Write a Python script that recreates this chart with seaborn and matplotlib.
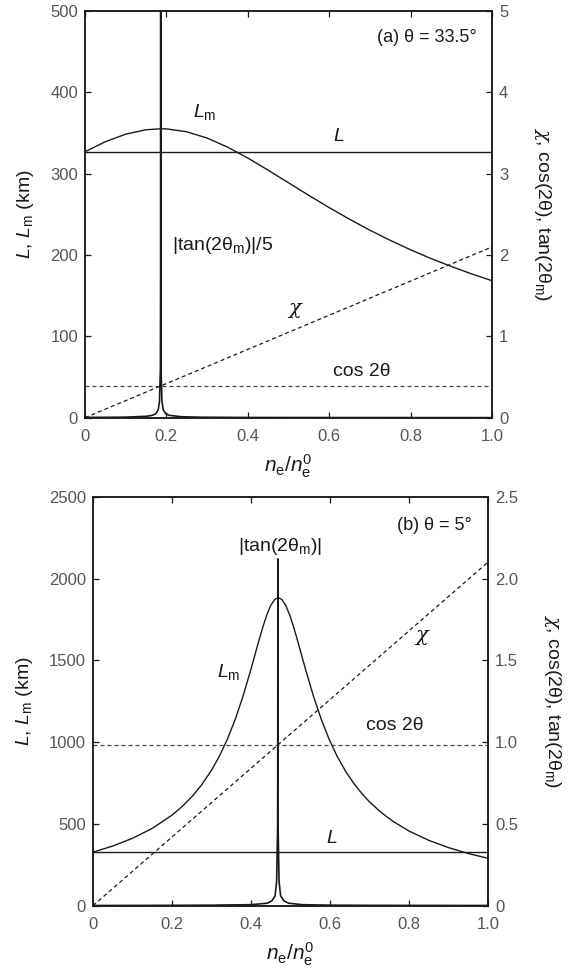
import numpy as np
import pandas as pd
import matplotlib
matplotlib.use("Agg")
import matplotlib.pyplot as plt
import seaborn as sns
from matplotlib.ticker import FixedLocator, FixedFormatter

sns.set_theme(style="white")
plt.rcParams['font.family'] = ['Liberation Sans', 'DejaVu Sans']
plt.rcParams['mathtext.fontset'] = 'custom'
plt.rcParams['mathtext.rm'] = 'Liberation Sans'
plt.rcParams['mathtext.it'] = 'Liberation Sans:italic'
plt.rcParams['mathtext.bf'] = 'Liberation Sans:bold'
plt.rcParams['mathtext.sf'] = 'DejaVu Serif:italic'

# ---------------- data: panel (a) theta = 33.5 deg ----------------
a_x_lm = [0.0, 0.05, 0.1, 0.15, 0.186, 0.2, 0.25, 0.3, 0.35, 0.4, 0.45, 0.5,
          0.55, 0.6, 0.65, 0.7, 0.75, 0.8, 0.85, 0.9, 0.95, 1.0]
a_lm = [327, 339.3, 348.6, 354.0, 355.2, 355.1, 351.5, 343.8, 332.7, 319.2, 304.3,
        288.8, 273.3, 258.3, 244.0, 230.5, 218.0, 206.4, 195.7, 185.9, 176.8, 168.4]
a_L = 327
a_cos = 0.39
a_chi_x = [0.0, 1.0]
a_chi = [0.0, 2.1]
a_tan_x = [0.0, 0.05, 0.1, 0.15, 0.166, 0.174, 0.18, 0.183, 0.1852, 0.1858, 0.186,
           0.1862, 0.1868, 0.189, 0.192, 0.198, 0.206, 0.236, 0.286, 0.4, 0.6, 0.8, 1.0]
a_tan = [0.004, 0.005, 0.007, 0.017, 0.03, 0.05, 0.1, 0.2, 0.6, 2.0, 6.0,
         2.0, 0.6, 0.2, 0.1, 0.05, 0.03, 0.012, 0.006, 0.003, 0.002, 0.0015, 0.001]

# ---------------- data: panel (b) theta = 5 deg ----------------
b_x_lm = [0.0, 0.05, 0.1, 0.15, 0.2, 0.225, 0.25, 0.275, 0.3, 0.32, 0.34, 0.36, 0.38,
          0.4, 0.41, 0.42, 0.43, 0.44, 0.45, 0.46, 0.469, 0.478, 0.488, 0.498, 0.508,
          0.518, 0.528, 0.538, 0.558, 0.578, 0.598, 0.618, 0.64, 0.66, 0.68, 0.7,
          0.73, 0.76, 0.8, 0.85, 0.9, 0.95, 1.0]
b_lm = [327, 364.6, 411.8, 472.6, 553.4, 604.5, 665.3, 738.5, 827.8, 914.0, 1016.5,
        1138.5, 1282.1, 1446.3, 1533.3, 1620.5, 1703.6, 1777.3, 1835.5, 1872.2, 1883.1,
        1872.0, 1835.1, 1776.7, 1702.8, 1619.6, 1532.5, 1445.4, 1281.4, 1137.8, 1016.0,
        913.6, 819.6, 748.0, 687.0, 634.5, 568.6, 514.6, 456.3, 399.4, 354.8, 319.0, 289.7]
b_L = 327
b_cos = 0.985
b_chi_x = [0.0, 1.0]
b_chi = [0.0, 2.1]
b_tan_x = [0.0, 0.1, 0.2, 0.3, 0.4, 0.441, 0.453, 0.461, 0.465, 0.4675, 0.4679, 0.468,
           0.4681, 0.4685, 0.471, 0.475, 0.483, 0.495, 0.53, 0.6, 0.7, 0.85, 1.0]
b_tan = [0.001, 0.0015, 0.002, 0.003, 0.006, 0.015, 0.03, 0.06, 0.15, 0.5, 1.5, 2.12,
         1.5, 0.5, 0.15, 0.06, 0.03, 0.015, 0.006, 0.003, 0.002, 0.0015, 0.001]

x_ticks = [0, 0.2, 0.4, 0.6, 0.8, 1.0]
x_ticklabels = ["0", "0.2", "0.4", "0.6", "0.8", "1.0"]
a_left_ticks = [0, 100, 200, 300, 400, 500]
a_right_ticks = [0, 1, 2, 3, 4, 5]
b_left_ticks = [0, 500, 1000, 1500, 2000, 2500]
b_right_ticks = [0, 0.5, 1.0, 1.5, 2.0, 2.5]
b_right_labels = ["0", "0.5", "1.0", "1.5", "2.0", "2.5"]

CHI = r'$\mathsf{\chi}$'
INK = '#1a1a1a'
TICKC = '#555555'
DASH = (3.2, 2.4)
LW = 1.0

fig = plt.figure(figsize=(5.74, 9.73), dpi=100)
ax_a = fig.add_axes([0.1481, 0.5707, 0.7091, 0.4180])
ax_b = fig.add_axes([0.1620, 0.0692, 0.6882, 0.4203])


def style(ax, ax2, left_ticks, right_ticks, right_labels, ylim_l, ylim_r):
    ax.set_xlim(0, 1)
    ax.set_ylim(*ylim_l)
    ax2.set_ylim(*ylim_r)
    ax.xaxis.set_major_locator(FixedLocator(x_ticks))
    ax.xaxis.set_major_formatter(FixedFormatter(x_ticklabels))
    ax.yaxis.set_major_locator(FixedLocator(left_ticks))
    ax.yaxis.set_major_formatter(FixedFormatter([str(t) for t in left_ticks]))
    ax2.yaxis.set_major_locator(FixedLocator(right_ticks))
    ax2.yaxis.set_major_formatter(FixedFormatter(right_labels))
    for a in (ax, ax2):
        for s in a.spines.values():
            s.set_visible(True)
            s.set_color(INK)
            s.set_linewidth(1.1)
        a.grid(False)
    ax.tick_params(axis='x', which='both', direction='in', top=True, bottom=True,
                   length=4, width=0.9, color=INK, labelcolor=TICKC, labelsize=12, pad=8)
    ax.tick_params(axis='y', direction='in', left=True, right=False,
                   length=4, width=0.9, color=INK, labelcolor=TICKC, labelsize=12, pad=5)
    ax2.tick_params(axis='y', direction='in', right=True, left=False,
                    length=4, width=0.9, color=INK, labelcolor=TICKC, labelsize=12, pad=5)
    ax.set_xlabel(r'$n_{\rm e}/n_{\rm e}^{\rm 0}$', fontsize=15, color=INK, labelpad=6)
    ax.set_ylabel(r'$L$, $L_{\rm m}$ (km)', fontsize=14, color=INK, labelpad=10)
    ax2.set_ylabel(CHI + r', cos(2θ), tan(2θ$_{\rm m}$)', fontsize=14, color=INK,
                   rotation=270, labelpad=32)


def draw(ax, ax2, x_lm, lm, L, cosv, chi_x, chi, tan_x, tan):
    ax2.set_facecolor('none')
    sns.lineplot(x=x_lm, y=lm, ax=ax, color=INK, lw=LW, estimator=None, sort=False)
    sns.lineplot(x=[0, 1], y=[L, L], ax=ax, color=INK, lw=LW, estimator=None)
    sns.lineplot(x=chi_x, y=chi, ax=ax2, color=INK, lw=0.9, estimator=None)
    sns.lineplot(x=[0, 1], y=[cosv, cosv], ax=ax2, color='#444444', lw=0.9, estimator=None)
    for ln in ax2.get_lines():
        ln.set_dashes(DASH)
    sns.lineplot(x=tan_x, y=tan, ax=ax2, color=INK, lw=1.2, estimator=None, sort=False)


# panel (a)
ax_a2 = ax_a.twinx()
draw(ax_a, ax_a2, a_x_lm, a_lm, a_L, a_cos, a_chi_x, a_chi, a_tan_x, a_tan)
style(ax_a, ax_a2, a_left_ticks, a_right_ticks, [str(t) for t in a_right_ticks], (0, 500), (0, 5))
ax_a.text(0.963, 468, '(a) θ = 33.5°', ha='right', va='center', fontsize=13, color=INK)
ax_a.text(0.265, 376, r'$L_{\rm m}$', ha='left', va='center', fontsize=14, color=INK)
ax_a.text(0.624, 346, r'$L$', ha='center', va='center', fontsize=14, color=INK)
ax_a.text(0.214, 212, r'|tan(2θ$_{\rm m}$)|/5', ha='left', va='center', fontsize=14, color=INK)
ax_a.text(0.518, 132, CHI, ha='center', va='center', fontsize=15, color=INK)
ax_a.text(0.681, 57, 'cos 2θ', ha='center', va='center', fontsize=14, color=INK)

# panel (b)
ax_b2 = ax_b.twinx()
draw(ax_b, ax_b2, b_x_lm, b_lm, b_L, b_cos, b_chi_x, b_chi, b_tan_x, b_tan)
style(ax_b, ax_b2, b_left_ticks, b_right_ticks, b_right_labels, (0, 2500), (0, 2.5))
ax_b.text(0.959, 2321, '(b) θ = 5°', ha='right', va='center', fontsize=13, color=INK)
ax_b.text(0.473, 2195, r'|tan(2θ$_{\rm m}$)|', ha='center', va='center', fontsize=14, color=INK)
ax_b.text(0.314, 1428, r'$L_{\rm m}$', ha='left', va='center', fontsize=14, color=INK)
ax_b.text(0.605, 410, r'$L$', ha='center', va='center', fontsize=14, color=INK)
ax_b.text(0.835, 1640, CHI, ha='center', va='center', fontsize=15, color=INK)
ax_b.text(0.765, 1100, 'cos 2θ', ha='center', va='center', fontsize=14, color=INK)

fig.savefig('out.png', dpi=100)
